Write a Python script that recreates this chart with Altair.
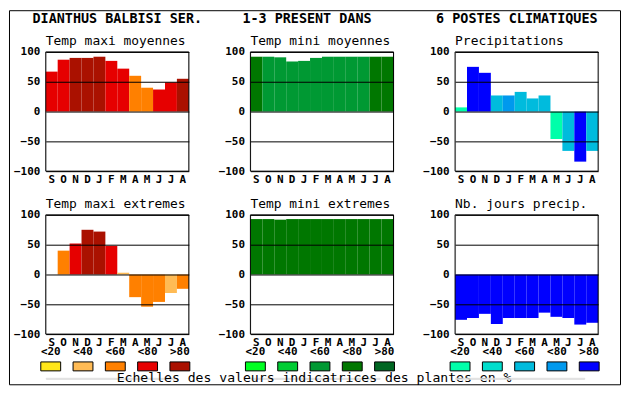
import altair as alt
import pandas as pd

# ---------------- data ----------------
months = ["S", "O", "N", "D", "J", "F", "M", "A", "M", "J", "J", "A"]
classes = ["<20", "<40", "<60", "<80", ">80"]

tmax_moy = [67, 87, 90, 90, 92, 85, 72, 60, 40, 37, 49, 55]
tmax_moy_cls = [3, 3, 4, 4, 4, 3, 3, 2, 2, 3, 3, 4]

tmin_moy = [92, 92, 91, 84, 85, 90, 92, 92, 92, 92, 92, 92]
tmin_moy_cls = [3, 2, 2, 2, 2, 2, 2, 2, 2, 2, 3, 3]

precip = [7, 75, 65, 27, 27, 33, 22, 27, -46, -66, -84, -66]
precip_cls = [0, 4, 4, 2, 3, 2, 2, 2, 0, 2, 4, 2]

tmax_ext = [0, 40, 52, 75, 72, 48, 3, -38, -54, -46, -31, -24]
tmax_ext_cls = [2, 2, 3, 4, 4, 3, 1, 2, 2, 2, 1, 2]

tmin_ext = [93, 93, 92, 93, 93, 93, 93, 93, 93, 93, 93, 93]
tmin_ext_cls = [3, 3, 3, 3, 3, 3, 3, 3, 3, 3, 3, 3]

nb_jours = [-76, -73, -66, -83, -73, -73, -73, -64, -71, -73, -84, -81]
nb_jours_cls = [4, 4, 4, 4, 4, 4, 4, 4, 4, 4, 4, 4]

temp_colors = ["#FFE61A", "#FFBB55", "#FF8000", "#E60000", "#AA1100"]
green_colors = ["#00FF22", "#00CC33", "#009933", "#007700", "#006622"]
blue_colors = ["#00FFAA", "#00DDCC", "#00BBDD", "#0099EE", "#0000FF"]

panel_titles = ["Temp maxi moyennes", "Temp mini moyennes", "Precipitations",
                "Temp maxi extremes", "Temp mini extremes", "Nb. jours precip."]
title_parts = ["DIANTHUS BALBISI SER.", "1-3 PRESENT DANS", "6 POSTES CLIMATIQUES"]
title_gaps = [5, 8]
footer = "Echelles des valeurs indicatrices des plantes en %"

# ---------------- layout / style ----------------
W, H = 144, 120
MONO = "DejaVu Sans Mono"
NB = "\u00a0"
label_expr = "[" + ",".join("'%s'" % m for m in months) + "][datum.value]"
main_title = (title_parts[0] + NB * title_gaps[0] + title_parts[1]
              + NB * title_gaps[1] + title_parts[2]).replace(" ", NB)


def frame_layer(x1, x2, y1, y2):
    return alt.Chart(pd.DataFrame({"f": [0]})).mark_rect(
        fillOpacity=0, stroke="black", strokeWidth=1
    ).encode(x=alt.value(x1), x2=alt.value(x2), y=alt.value(y1), y2=alt.value(y2))


def text_layer(txt, x, y, **kw):
    return alt.Chart(pd.DataFrame({"t": [txt]})).mark_text(
        font=MONO, color="black", baseline="alphabetic", **kw
    ).encode(x=alt.value(x), y=alt.value(y), text="t:N")


def panel(title, values, cls, palette, extra=()):
    df = pd.DataFrame({"m": list(range(12)), "v": values, "c": cls})
    bars = alt.Chart(df).mark_bar(strokeWidth=0).encode(
        x=alt.X("m:O", scale=alt.Scale(paddingInner=0, paddingOuter=0),
                axis=alt.Axis(labelExpr=label_expr, labelAngle=0, ticks=False,
                              domain=False, labelPadding=2, title=None,
                              labelFont=MONO, labelFontWeight="bold",
                              labelFontSize=11, labelColor="black")),
        y=alt.Y("v:Q", scale=alt.Scale(domain=[-100, 100]),
                axis=alt.Axis(values=[100, 50, 0, -50, -100], ticks=False,
                              domain=False, grid=True, gridColor="black",
                              gridOpacity=1, gridWidth=1, labelPadding=6,
                              zindex=1, title=None, labelFont=MONO,
                              labelFontWeight="bold", labelFontSize=11,
                              labelColor="black")),
        color=alt.Color("c:N", scale=alt.Scale(domain=[0, 1, 2, 3, 4], range=palette),
                        legend=None),
    )
    ttl = text_layer(title.replace(" ", NB), 0, -7.3, fontSize=13, align="left")
    layers = [bars, frame_layer(0, W, 0, H), ttl] + list(extra)
    return alt.layer(*layers).properties(width=W, height=H)


def legend(palette, extra=()):
    df = pd.DataFrame({"k": classes, "c": list(range(5))})
    x = alt.X("k:N", sort=classes, scale=alt.Scale(type="point", padding=0), axis=None)
    sw = alt.Chart(df).mark_point(
        shape="M-1,-0.45H1V0.45H-1Z", size=400, filled=True, opacity=1,
        stroke="black", strokeWidth=1, xOffset=5
    ).encode(x=x, y=alt.value(-11.5),
             fill=alt.Fill("c:N", scale=alt.Scale(domain=[0, 1, 2, 3, 4], range=palette),
                           legend=None))
    lab = alt.Chart(df).mark_text(
        font=MONO, fontWeight="bold", fontSize=11, baseline="middle", xOffset=5,
        color="black"
    ).encode(x=x, y=alt.value(-25.5), text="k:N")
    return alt.layer(sw, lab, *extra).properties(width=130, height=1)


# outer frame + main title live in first panel (positions relative to its plot area)
outer = frame_layer(-36.5, 578.5, -41.5, 335)
title_txt = text_layer(main_title, -13.3, -28.7, fontSize=13.5, fontWeight="bold",
                       align="left")
footer_txt = text_layer(footer.replace(" ", NB), 64, 4.5, fontSize=13.2, align="center")

cells = [
    panel(panel_titles[0], tmax_moy, tmax_moy_cls, temp_colors, extra=(outer, title_txt)),
    panel(panel_titles[1], tmin_moy, tmin_moy_cls, green_colors),
    panel(panel_titles[2], precip, precip_cls, blue_colors),
    panel(panel_titles[3], tmax_ext, tmax_ext_cls, temp_colors),
    panel(panel_titles[4], tmin_ext, tmin_ext_cls, green_colors),
    panel(panel_titles[5], nb_jours, nb_jours_cls, blue_colors),
    legend(temp_colors),
    legend(green_colors, extra=(footer_txt,)),
    legend(blue_colors),
]

chart = alt.concat(
    *cells, columns=3, spacing={"row": 44, "column": 62}, bounds="flush", align="each"
).properties(padding=0).resolve_scale(color="independent", fill="independent").configure_view(
    stroke="transparent"
).configure(background="white")

chart.save("out.html", embed_options={"renderer": "svg", "actions": False})
